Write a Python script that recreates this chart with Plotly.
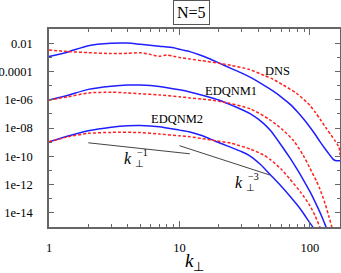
import plotly.graph_objects as go

# ---- data (k_perp values and log10 of spectra) ----
dns_sim_k = [1, 1.4, 2, 3, 4, 5, 7, 9, 10, 11, 12, 14, 17, 20, 25, 30, 35, 42, 52, 62, 72,
             80, 90, 100, 110, 120, 130, 140, 150, 156, 170]
dns_sim_log = [-2.95, -2.62, -2.18, -2.01, -1.99, -2.08, -2.22, -2.33, -2.43, -2.52, -2.60,
               -2.80, -3.10, -3.40, -3.80, -4.12, -4.42, -4.85, -5.38, -5.90, -6.40, -6.85,
               -7.40, -7.95, -8.48, -9.00, -9.45, -9.85, -10.20, -10.30, -10.32]

dns_ref_k = [1, 1.4, 2, 3, 4, 5, 6, 7, 8, 9, 10, 12, 15, 20, 25, 34, 45, 52, 62, 79, 100,
             110, 120, 134, 145, 155, 163, 167, 170]
dns_ref_log = [-2.48, -2.60, -2.67, -2.74, -2.72, -2.68, -2.80, -2.93, -2.84, -2.92, -3.02,
               -3.12, -3.25, -3.42, -3.58, -3.85, -4.30, -4.55, -4.95, -5.55, -6.40, -6.90,
               -7.40, -8.05, -8.50, -8.88, -9.20, -9.35, -9.90]

ed1_sim_k = [1, 1.4, 2, 3, 4, 5, 7, 10, 12, 16, 20, 26, 35, 44, 50, 60, 70, 80, 90, 100,
             115, 125, 134, 140]
ed1_sim_log = [-6.02, -5.68, -5.27, -5.05, -4.96, -4.96, -5.06, -5.30, -5.45, -5.75, -6.02,
               -6.45, -7.00, -7.67, -8.20, -9.20, -10.10, -10.95, -11.75, -12.50, -13.65,
               -14.40, -15.10, -15.50]

ed1_ref_k = [1, 1.4, 2, 3, 4, 5, 7, 10, 12, 15, 18, 24, 35, 49, 62, 75, 89, 100, 112, 119,
             130, 140, 147, 152]
ed1_ref_log = [-6.02, -5.79, -5.52, -5.47, -5.52, -5.58, -5.66, -5.79, -5.88, -5.96, -6.04,
               -6.25, -6.65, -7.40, -8.14, -8.90, -9.95, -10.85, -11.75, -12.30, -13.30,
               -14.30, -15.00, -15.40]

ed2_sim_k = [1, 1.4, 2, 3, 4, 5, 7, 10, 12, 15, 19, 24, 30, 35, 42, 49, 60, 70, 80, 89, 98,
             106, 112]
ed2_sim_log = [-8.98, -8.57, -8.20, -7.95, -7.84, -7.82, -7.91, -8.15, -8.28, -8.55, -8.95,
               -9.32, -9.68, -10.00, -10.60, -11.25, -12.10, -12.80, -13.45, -14.03, -14.60,
               -15.05, -15.40]

ed2_ref_k = [1, 1.4, 2, 3, 5, 7, 10, 12, 15, 19, 25, 35, 44, 50, 60, 70, 85, 100, 110, 119,
             125]
ed2_ref_log = [-8.98, -8.62, -8.38, -8.31, -8.32, -8.43, -8.55, -8.62, -8.75, -8.90, -9.08,
               -9.50, -9.90, -10.25, -10.90, -11.60, -12.55, -13.50, -14.25, -15.00, -15.40]

# power-law guide lines
guide1_k = [2, 12]
guide1_E = [9.0e-10, 1.5e-10]
guide3_k = [10, 49]
guide3_E = [5.6e-10, 4.8e-12]

x_tick_vals = [1, 10, 100]
x_tick_text = ["1", "10", "100"]
x_minor_vals = [2, 3, 4, 5, 6, 7, 8, 9, 20, 30, 40, 50, 60, 70, 80, 90]
y_tick_vals = [1e-2, 1e-4, 1e-6, 1e-8, 1e-10, 1e-12, 1e-14]
y_tick_text = ["0.01", "0.0001", "1e-06", "1e-08", "1e-10", "1e-12", "1e-14"]
y_minor_vals = [1e-3, 1e-5, 1e-7, 1e-9, 1e-11, 1e-13]

BLUE = "#1f1fff"
RED = "#ff2020"
SERIF = "Liberation Serif"

fig = go.Figure()


def add_pair(ks, logs_s, kr, logs_r):
    fig.add_trace(go.Scatter(x=ks, y=[10 ** v for v in logs_s], mode="lines",
                             line=dict(color=BLUE, width=1.5, shape="spline", smoothing=0.6),
                             showlegend=False, hoverinfo="skip"))
    fig.add_trace(go.Scatter(x=kr, y=[10 ** v for v in logs_r], mode="lines",
                             line=dict(color=RED, width=1.5, dash="3px,2px", shape="spline",
                                       smoothing=0.6),
                             showlegend=False, hoverinfo="skip"))


add_pair(dns_sim_k, dns_sim_log, dns_ref_k, dns_ref_log)
add_pair(ed1_sim_k, ed1_sim_log, ed1_ref_k, ed1_ref_log)
add_pair(ed2_sim_k, ed2_sim_log, ed2_ref_k, ed2_ref_log)

for gk, ge in ((guide1_k, guide1_E), (guide3_k, guide3_E)):
    fig.add_trace(go.Scatter(x=gk, y=ge, mode="lines", line=dict(color="#444444", width=1),
                             showlegend=False, hoverinfo="skip"))

AX = "#666666"
fig.update_xaxes(type="log", range=[0, 2.23], tickvals=x_tick_vals, ticktext=x_tick_text,
                 ticks="inside", ticklen=6, tickwidth=1, tickcolor=AX,
                 showline=True, linecolor=AX, linewidth=1.5, mirror="allticks",
                 showgrid=False, zeroline=False, ticklabelstandoff=8, automargin=False,
                 tickfont=dict(family=SERIF, size=12.5, color="black"),
                 minor=dict(tickvals=x_minor_vals, ticks="inside", ticklen=3,
                            tickcolor=AX, tickwidth=1, showgrid=False))
fig.update_yaxes(type="log", range=[-15, -1], tickvals=y_tick_vals, ticktext=y_tick_text,
                 ticks="inside", ticklen=5, tickwidth=1, tickcolor=AX,
                 showline=True, linecolor=AX, linewidth=1.5, mirror="allticks",
                 showgrid=False, zeroline=False, ticklabelstandoff=12, automargin=False,
                 tickfont=dict(family=SERIF, size=12.5, color="black"),
                 minor=dict(tickvals=y_minor_vals, ticks="inside", ticklen=3,
                            tickcolor=AX, tickwidth=1, showgrid=False))

lab_font = dict(family=SERIF, size=12.5, color="black")
annotations = [
    dict(x=1.752, y=-3.97, text="DNS"),
    dict(x=1.392, y=-5.35, text="EDQNM1"),
    dict(x=0.978, y=-7.34, text="EDQNM2"),
]
for a in annotations:
    fig.add_annotation(x=a["x"], y=a["y"], xref="x", yref="y", text=a["text"],
                       showarrow=False, font=lab_font, xanchor="center", yanchor="middle")


def power_label(x, y, expo):
    # italic k, with the ⊥ subscript and the exponent stacked just after it
    fig.add_annotation(x=x, y=y, xref="x", yref="y", text="<i>k</i>", showarrow=False,
                       font=dict(family=SERIF, size=16, color="black"),
                       xanchor="right", yanchor="middle")
    fig.add_annotation(x=x, y=y, xref="x", yref="y", text="⊥", showarrow=False,
                       font=dict(family=SERIF, size=10, color="black"),
                       xanchor="left", yanchor="middle", yshift=-5, xshift=-1)
    fig.add_annotation(x=x, y=y, xref="x", yref="y", text=expo, showarrow=False,
                       font=dict(family=SERIF, size=10, color="black"),
                       xanchor="left", yanchor="middle", yshift=6, xshift=1)


power_label(0.655, -10.15, "−1")
power_label(1.502, -11.82, "−3")

fig.add_annotation(x=0.5, y=-0.177, xref="paper", yref="paper",
                   text="<i>k</i><sub>⊥</sub>", showarrow=False,
                   font=dict(family=SERIF, size=19, color="black"),
                   xanchor="center", yanchor="middle")

fig.add_annotation(x=0.49, y=1.083, xref="paper", yref="paper", text="N=5",
                   showarrow=False, font=dict(family=SERIF, size=16, color="black"),
                   bordercolor="#555555", borderwidth=1, borderpad=3,
                   bgcolor="white", xanchor="center", yanchor="middle")

fig.update_layout(width=341, height=273, margin=dict(l=49, r=1, t=29, b=46),
                  plot_bgcolor="white", paper_bgcolor="white", showlegend=False)

post = ("document.documentElement.style.margin='0';"
        "document.documentElement.style.overflow='hidden';"
        "document.body.style.margin='0';document.body.style.padding='0';"
        "document.body.style.overflow='hidden';"
        "var gd=document.getElementById('{plot_id}');"
        "if(gd){gd.style.margin='0';Plotly.relayout(gd,{width:341,height:273});}")
fig.write_html("out.html", post_script=post, config={"displayModeBar": False})
